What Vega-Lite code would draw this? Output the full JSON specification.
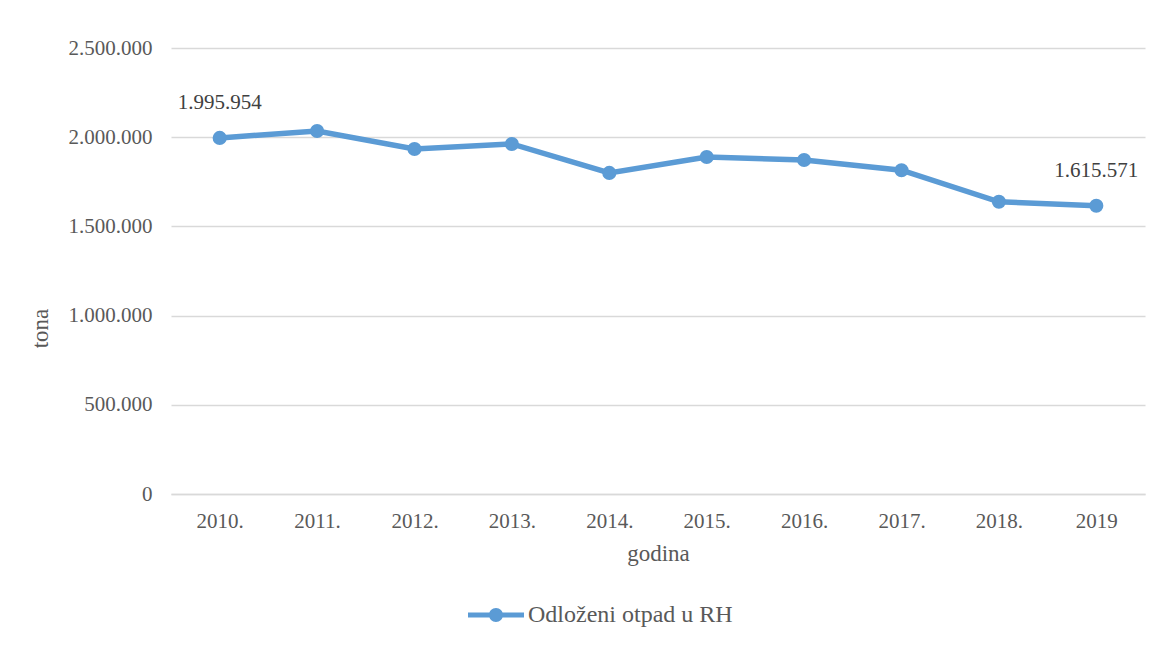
{
  "$schema": "https://vega.github.io/schema/vega-lite/v6.json",
  "width": 974,
  "height": 446,
  "autosize": {"type": "none"},
  "padding": {"left": 171, "top": 48, "right": 28, "bottom": 152},
  "background": "#FFFFFF",
  "config": {
    "view": {"stroke": null},
    "font": "Liberation Serif",
    "locale": {
      "number": {"decimal": ",", "thousands": ".", "grouping": [3], "currency": ["", ""]}
    }
  },
  "data": {
    "values": [
      {"godina": "2010.", "tona": 1995954, "serija": "Odloženi otpad u RH"},
      {"godina": "2011.", "tona": 2035000, "serija": "Odloženi otpad u RH"},
      {"godina": "2012.", "tona": 1934000, "serija": "Odloženi otpad u RH"},
      {"godina": "2013.", "tona": 1962000, "serija": "Odloženi otpad u RH"},
      {"godina": "2014.", "tona": 1800000, "serija": "Odloženi otpad u RH"},
      {"godina": "2015.", "tona": 1889000, "serija": "Odloženi otpad u RH"},
      {"godina": "2016.", "tona": 1872000, "serija": "Odloženi otpad u RH"},
      {"godina": "2017.", "tona": 1815000, "serija": "Odloženi otpad u RH"},
      {"godina": "2018.", "tona": 1638000, "serija": "Odloženi otpad u RH"},
      {"godina": "2019", "tona": 1615571, "serija": "Odloženi otpad u RH"}
    ]
  },
  "encoding": {
    "x": {
      "field": "godina",
      "type": "ordinal",
      "sort": null,
      "axis": {
        "title": "godina",
        "titleFont": "Liberation Serif",
        "titleFontSize": 23,
        "titleFontWeight": "normal",
        "titleColor": "#595959",
        "titleBaseline": "alphabetic",
        "titleY": 66,
        "labelFont": "Liberation Serif",
        "labelAngle": 0,
        "labelFontSize": 21,
        "labelColor": "#595959",
        "labelBaseline": "alphabetic",
        "labelPadding": 33,
        "ticks": false,
        "domainColor": "#D9D9D9",
        "domainWidth": 1.5,
        "grid": false
      }
    },
    "y": {
      "field": "tona",
      "type": "quantitative",
      "scale": {"domain": [0, 2500000]},
      "axis": {
        "title": "tona",
        "titleFont": "Liberation Serif",
        "titleFontSize": 23,
        "titleFontWeight": "normal",
        "titleColor": "#595959",
        "titleBaseline": "alphabetic",
        "titleAlign": "center",
        "titleX": -124,
        "titleY": 280,
        "values": [0, 500000, 1000000, 1500000, 2000000, 2500000],
        "format": ",d",
        "labelFont": "Liberation Serif",
        "labelFontSize": 21,
        "labelColor": "#595959",
        "labelPadding": 19,
        "ticks": false,
        "domain": false,
        "gridColor": "#D9D9D9",
        "gridWidth": 1.5
      }
    }
  },
  "layer": [
    {
      "mark": {
        "type": "line",
        "strokeWidth": 5.5,
        "point": {"filled": true, "size": 200, "opacity": 1}
      },
      "encoding": {
        "color": {
          "field": "serija",
          "type": "nominal",
          "scale": {"range": ["#5B9BD5"]},
          "legend": {
            "title": null,
            "orient": "none",
            "legendX": 297,
            "legendY": 539,
            "padding": 0,
            "symbolType": "M-1,-0.09H1V0.09H-1Z M0.25,0A0.25,0.25 0 1 1 -0.25,0A0.25,0.25 0 1 1 0.25,0Z",
            "symbolSize": 3136,
            "symbolFillColor": "#5B9BD5",
            "symbolStrokeWidth": 0,
            "labelFont": "Liberation Serif",
            "labelFontSize": 24,
            "labelColor": "#595959",
            "labelOffset": 4,
            "labelLimit": 500,
            "encode": {
              "symbols": {
                "update": {
                  "fill": {"value": "#5B9BD5"},
                  "stroke": {"value": "transparent"},
                  "opacity": {"value": 1}
                }
              }
            }
          }
        }
      }
    },
    {
      "transform": [{"filter": {"field": "godina", "oneOf": ["2010.", "2019"]}}],
      "mark": {
        "type": "text",
        "dy": -29,
        "fontSize": 21,
        "color": "#404040",
        "baseline": "alphabetic",
        "font": "Liberation Serif"
      },
      "encoding": {
        "text": {"field": "tona", "type": "quantitative", "format": ",d"}
      }
    }
  ]
}
